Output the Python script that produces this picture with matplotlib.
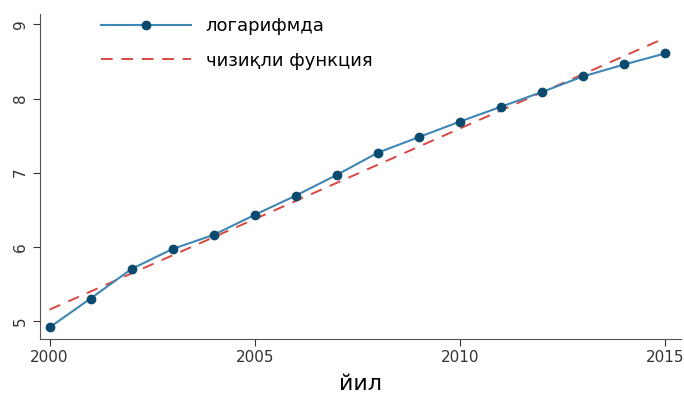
import matplotlib
matplotlib.use("Agg")
import matplotlib.pyplot as plt

years = list(range(2000, 2016))
log_values = [4.91, 5.30, 5.70, 5.97, 6.16, 6.43, 6.69, 6.97, 7.27, 7.48,
              7.69, 7.89, 8.09, 8.30, 8.46, 8.61]
linear_start, linear_end = 5.15, 8.82
linear_values = [linear_start + (linear_end - linear_start) * (y - 2000) / 15 for y in years]

fig = plt.figure(figsize=(6.84, 4.03), dpi=100)
ax = fig.add_axes([0.058, 0.16, 0.937, 0.805])

# fitted line and data
ax.plot(years, linear_values, linestyle=(0, (6, 4.5)), color="#d9473f", lw=1.4,
        label="чизиқли функция", zorder=2)
ax.plot(years, log_values, color="#3f86b4", lw=1.5, marker="o", markersize=6,
        markerfacecolor="#0b4a6f", markeredgecolor="#0b4a6f", label="логарифмда", zorder=3)

ax.set_xlim(1999.76, 2015.37)
ax.set_ylim(4.76, 9.14)
ax.set_xticks([2000, 2005, 2010, 2015])
ax.set_yticks([5, 6, 7, 8, 9])
for lbl in ax.get_yticklabels():
    lbl.set_rotation(90)
    lbl.set_va("center")
ax.tick_params(labelsize=11, colors="#333333", length=5)
for side in ["top", "right"]:
    ax.spines[side].set_visible(False)
for side in ["left", "bottom"]:
    ax.spines[side].set_color("#555555")

ax.set_xlabel("йил", fontsize=16, labelpad=6)

handles, labels = ax.get_legend_handles_labels()
ax.legend(handles[::-1], labels[::-1], loc="upper left", bbox_to_anchor=(0.07, 1.04),
          frameon=False, fontsize=13, handlelength=5, labelspacing=0.9)

fig.savefig("out.png", dpi=100)
